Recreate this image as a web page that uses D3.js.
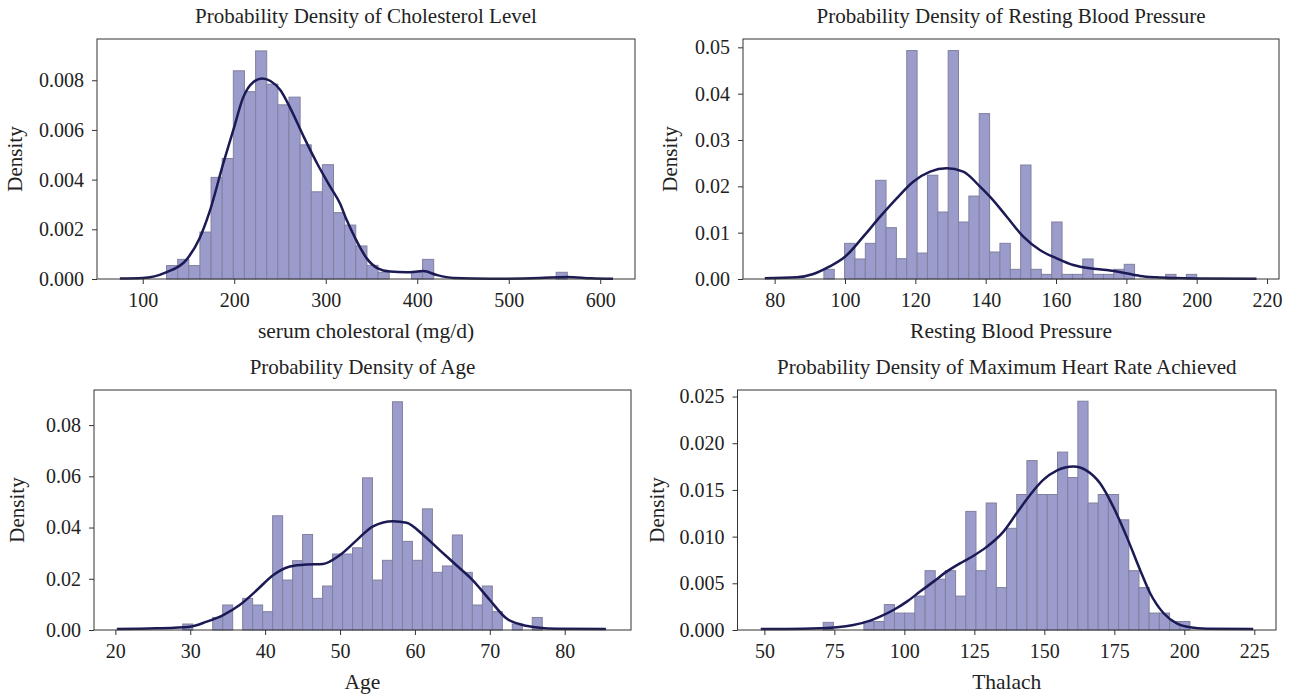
<!DOCTYPE html>
<html>
<meta charset="utf-8">
<style>
    body {
        margin: 0;
        background: #fff;
    }

    text {
        font-family: 'Liberation Serif', 'Times New Roman', serif;
        fill: #222;
    }
</style>

<body>
    <svg id="chart" width="1296" height="699"></svg>
    <script src="https://cdn.jsdelivr.net/npm/d3@7/dist/d3.min.js"></script>
    <script>

        // ---- cholesterol ----
        const cholBins = [126, 564]
        const cholDensity = [0.00054, 0.00079, 0.00054, 0.00189, 0.00409, 0.00485, 0.00838, 0.00754, 0.00918, 0.00784,
            0.00701, 0.00732, 0.0054, 0.00351, 0.0046, 0.00267, 0.00217, 0.00133, 0.00055, 0.00027,
            0, 0, 0.00027, 0.00079, 0, 0, 0, 0, 0, 0, 0, 0, 0, 0, 0, 0.00027]
        const cholCurveX = [75, 100, 125.5, 147.4, 162, 173, 188, 199, 210, 221, 230.5, 239.6, 250.5, 261.5, 276, 290.6,
            305, 315.6, 322.9, 332.4, 344.8, 356.8, 370.3, 388.5, 406.7, 421.3, 439.5, 480, 534, 564, 590, 614]
        const cholCurveY = [0.00002, 0.00004, 0.00027, 0.00076, 0.00163, 0.0027, 0.00465, 0.006, 0.00733, 0.00793, 0.00807,
            0.00797, 0.0076, 0.00686, 0.00572, 0.00465, 0.00371, 0.00304, 0.00237, 0.00163, 0.00083, 0.00043,
            0.0003, 0.00027, 0.00032, 0.00016, 0.00004, 0.00001, 0.00004, 0.00008, 0.00003, 0.00001]
        const cholXTicks = [100, 200, 300, 400, 500, 600]
        const cholYTicks = [0, 0.002, 0.004, 0.006, 0.008]

        // ---- resting blood pressure ----
        const bpBins = [94, 200]
        const bpDensity = [0.00209, 0, 0.0077, 0.00432, 0.0077, 0.0213, 0.01108, 0.00439, 0.0493, 0.0056,
            0.0224, 0.01446, 0.0493, 0.0123, 0.0179, 0.0357, 0.00583, 0.0077, 0.00209, 0.0246,
            0.00209, 0.001, 0.0123, 0.001, 0.001, 0.00432, 0.001, 0.001, 0.00209, 0.00317,
            0, 0, 0, 0.001, 0, 0.001]
        const bpCurveX = [77.2, 86.3, 91, 95.5, 100, 105.2, 110, 114.7, 119.4, 124.2, 128.9, 133.6, 138.4, 141.2, 146,
            150.7, 155.4, 160.2, 164.9, 169.6, 174.4, 179.1, 183.9, 188.6, 193.3, 200, 217]
        const bpCurveY = [0.00014, 0.00036, 0.00108, 0.00266, 0.0048, 0.00914, 0.01345, 0.0174, 0.021, 0.02317, 0.02388,
            0.02317, 0.01993, 0.01777, 0.01345, 0.00914, 0.00626, 0.00446, 0.00302, 0.0023, 0.00194, 0.00137,
            0.00065, 0.00036, 0.00022, 0.00012, 0.00007]
        const bpXTicks = [80, 100, 120, 140, 160, 180, 200, 220]
        const bpYTicks = [0, 0.01, 0.02, 0.03, 0.04, 0.05]

        // ---- age ----
        const ageBins = [29, 77]
        const ageDensity = [0.00234, 0, 0, 0.0049, 0.00976, 0, 0.01236, 0.00976, 0.00715, 0.0446,
            0.0195, 0.02706, 0.0373, 0.01236, 0.01717, 0.02966, 0.02966, 0.0321, 0.0594, 0.0195,
            0.0272, 0.0891, 0.0346, 0.0272, 0.0473, 0.0225, 0.025, 0.0371, 0.0225, 0.00976,
            0.01717, 0.00715, 0, 0.00234, 0, 0.0049]
        const ageCurveX = [20.2, 25.5, 30, 32.2, 34.4, 36.6, 38.9, 41.1, 43.3, 45.5, 47.7, 50, 52.2, 54.4, 57.1, 58.9,
            61.1, 63.3, 65.5, 67.7, 70, 72.2, 74.4, 76.6, 78.9, 85.5]
        const ageCurveY = [0.0004, 0.00065, 0.0013, 0.00325, 0.00585, 0.00976, 0.0156, 0.0215, 0.0248, 0.0256, 0.0258,
            0.0293, 0.035, 0.0405, 0.0425, 0.0419, 0.0371, 0.0312, 0.02537, 0.0195, 0.0117, 0.00455, 0.00195,
            0.0009, 0.0005, 0.0004]
        const ageXTicks = [20, 30, 40, 50, 60, 70, 80]
        const ageYTicks = [0, 0.02, 0.04, 0.06, 0.08]

        // ---- max heart rate ----
        const thalBins = [71, 202]
        const thalDensity = [0.00082, 0, 0, 0, 0.00091, 0.00091, 0.00272, 0.00181, 0.00181, 0.00363,
            0.00635, 0.00544, 0.00635, 0.00363, 0.0127, 0.00635, 0.0136, 0.00454, 0.01089, 0.01451,
            0.01814, 0.01451, 0.01451, 0.01905, 0.01633, 0.0245, 0.0136, 0.01451, 0.01451, 0.0118,
            0.00635, 0.00454, 0.00181, 0.00181, 0.00091, 0.00091]
        const thalCurveX = [48.7, 58, 69.9, 75.9, 81.8, 87.8, 91.3, 96.1, 100.9, 105.6, 110.4, 115.1, 119.9, 124.6, 129.4,
            135.4, 140.1, 144.9, 149.6, 154.4, 160.4, 165.1, 169.9, 174.6, 179.4, 184.2, 187.8, 192.6, 197.3,
            202, 208, 224.6]
        const thalCurveY = [0.0001, 0.0001, 0.00018, 0.00029, 0.00054, 0.001, 0.00143, 0.00214, 0.00304, 0.00411, 0.00518,
            0.00625, 0.00714, 0.00793, 0.0089, 0.01054, 0.0125, 0.01446, 0.01607, 0.01707, 0.0175, 0.01707,
            0.01571, 0.01321, 0.01, 0.00643, 0.00393, 0.00179, 0.00071, 0.00029, 0.00014, 0.0001]
        const thalXTicks = [50, 75, 100, 125, 150, 175, 200, 225]
        const thalYTicks = [0, 0.005, 0.01, 0.015, 0.02, 0.025]

        const panels = [
            {
                title: "Probability Density of Cholesterol Level", xlabel: "serum cholestoral (mg/d)",
                box: [97, 635, 39, 279], xDomain: [50, 638], yMax: 0.00966, labelX: 22,
                bins: cholBins, density: cholDensity, cx: cholCurveX, cy: cholCurveY,
                xTicks: cholXTicks, yTicks: cholYTicks, fmt: ".3f"
            },
            {
                title: "Probability Density of Resting Blood Pressure", xlabel: "Resting Blood Pressure",
                box: [743, 1279, 39, 279], xDomain: [71, 223.4], yMax: 0.0518, labelX: 677,
                bins: bpBins, density: bpDensity, cx: bpCurveX, cy: bpCurveY,
                xTicks: bpXTicks, yTicks: bpYTicks, fmt: ".2f"
            },
            {
                title: "Probability Density of Age", xlabel: "Age",
                box: [94, 631, 390, 630], xDomain: [17.15, 88.85], yMax: 0.0937, labelX: 24,
                bins: ageBins, density: ageDensity, cx: ageCurveX, cy: ageCurveY,
                xTicks: ageXTicks, yTicks: ageYTicks, fmt: ".2f"
            },
            {
                title: "Probability Density of Maximum Heart Rate Achieved", xlabel: "Thalach",
                box: [737.5, 1276, 390, 630], xDomain: [40.4, 232.75], yMax: 0.0257, labelX: 664,
                bins: thalBins, density: thalDensity, cx: thalCurveX, cy: thalCurveY,
                xTicks: thalXTicks, yTicks: thalYTicks, fmt: ".3f"
            }
        ]

        const chart = d3.select("#chart")
        chart.append("rect").attr("width", 1296).attr("height", 699).attr("fill", "#fff")

        panels.forEach(p => {
            const [left, right, top, bottom] = p.box
            const x = d3.scaleLinear().domain(p.xDomain).range([left, right])
            const y = d3.scaleLinear().domain([0, p.yMax]).range([bottom, top])
            const g = chart.append("g")

            const n = p.density.length
            const w = (p.bins[1] - p.bins[0]) / n
            const bars = p.density.map((d, i) => ({ x0: p.bins[0] + i * w, x1: p.bins[0] + (i + 1) * w, d: d }))
                .filter(b => b.d > 0)

            g.selectAll("rect.bar")
                .data(bars)
                .enter()
                .append("rect")
                .attr("class", "bar")
                .attr("x", b => x(b.x0))
                .attr("width", b => x(b.x1) - x(b.x0))
                .attr("y", b => y(b.d))
                .attr("height", b => y(0) - y(b.d))
                .attr("fill", "#9b9bcc")
                .attr("stroke", "#80809f")
                .attr("stroke-width", 1)

            const line = d3.line()
                .x(d => x(d[0]))
                .y(d => y(d[1]))
                .curve(d3.curveMonotoneX)

            g.append("path")
                .datum(p.cx.map((v, i) => [v, p.cy[i]]))
                .attr("d", line)
                .attr("fill", "none")
                .attr("stroke", "#1c1a55")
                .attr("stroke-width", 2.5)

            // frame
            g.append("rect")
                .attr("x", left).attr("y", top)
                .attr("width", right - left).attr("height", bottom - top)
                .attr("fill", "none")
                .attr("stroke", "#333")
                .attr("stroke-width", 1)

            const xAxis = g.append("g")
                .attr("transform", "translate(0," + bottom + ")")
                .call(d3.axisBottom(x).tickValues(p.xTicks).tickSize(5).tickPadding(9).tickFormat(d3.format("d")))
            const yAxis = g.append("g")
                .attr("transform", "translate(" + left + ",0)")
                .call(d3.axisLeft(y).tickValues(p.yTicks).tickSize(5).tickPadding(8).tickFormat(d3.format(p.fmt)))

            for (const ax of [xAxis, yAxis]) {
                ax.select(".domain").remove()
                ax.selectAll(".tick line").attr("stroke", "#333")
                ax.selectAll(".tick text")
                    .style("font-family", "'Liberation Serif', serif")
                    .style("font-size", "20px")
                    .attr("fill", "#222")
            }

            g.append("text")
                .attr("x", (left + right) / 2)
                .attr("y", top - 16)
                .attr("text-anchor", "middle")
                .style("font-size", "21px")
                .text(p.title)

            g.append("text")
                .attr("x", (left + right) / 2)
                .attr("y", bottom + 59)
                .attr("text-anchor", "middle")
                .style("font-size", "21.5px")
                .text(p.xlabel)

            g.append("text")
                .attr("transform", "translate(" + p.labelX + "," + (top + bottom) / 2 + ") rotate(-90)")
                .attr("text-anchor", "middle")
                .style("font-size", "21px")
                .text("Density")
        })

    </script>
</body>

</html>
